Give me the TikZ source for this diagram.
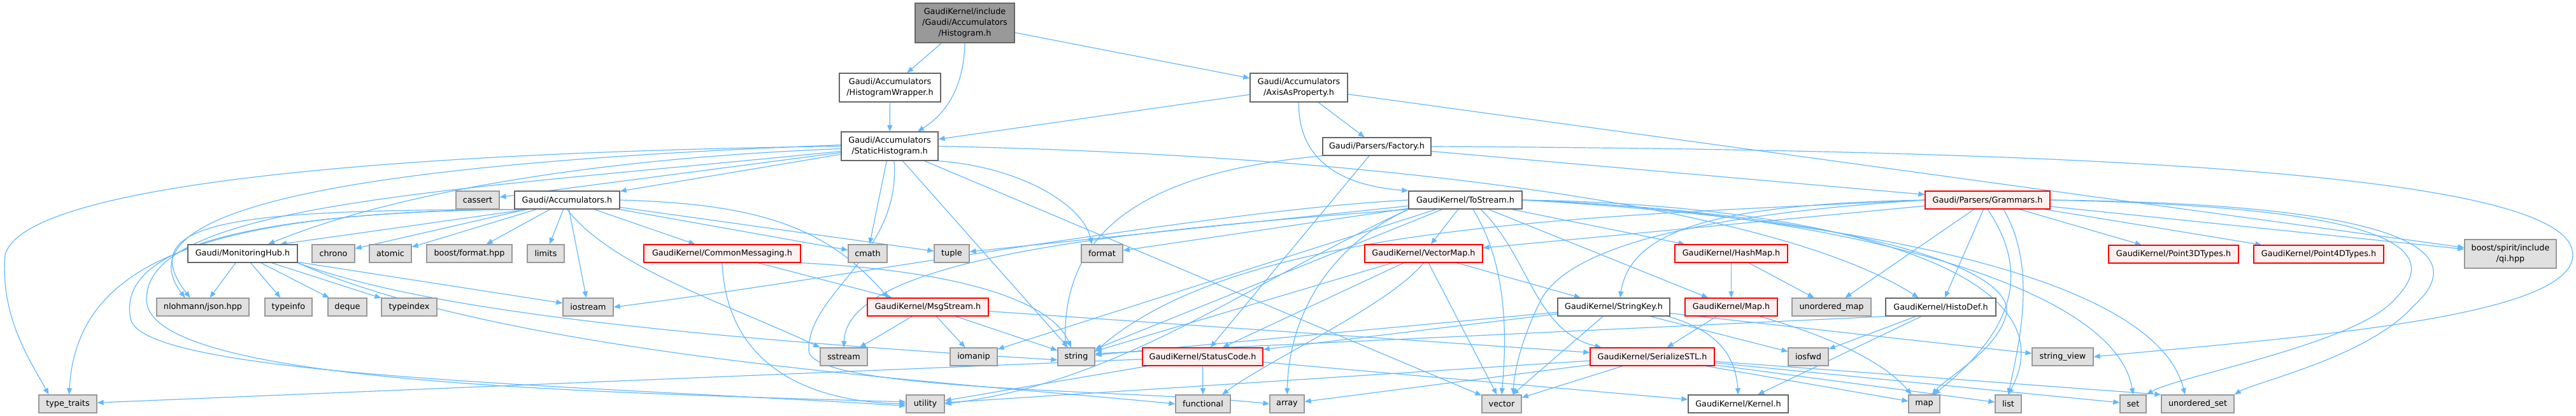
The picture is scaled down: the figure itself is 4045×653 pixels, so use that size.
\documentclass[tikz,border=0pt]{standalone}
\usepackage{fontspec}
\newfontfamily\nodefam{DejaVu Sans}
\usetikzlibrary{arrows.meta}
\definecolor{edgec}{HTML}{63B8FF}
\definecolor{sysfill}{HTML}{E0E0E0}
\definecolor{sysdraw}{HTML}{999999}
\definecolor{usrdraw}{HTML}{666666}
\definecolor{trfill}{HTML}{FFF0F0}
\definecolor{trdraw}{HTML}{FF0000}
\definecolor{topfill}{HTML}{999999}
\pgfdeclarelayer{edgelayer}
\pgfsetlayers{edgelayer,main}
\tikzset{
  nd/.style={rectangle, line width=1.3pt, inner sep=0pt, minimum height=28,
    font=\nodefam\fontsize{12.8}{17}\selectfont, align=center, text=black},
  sysn/.style={nd, fill=sysfill, draw=sysdraw},
  usrn/.style={nd, fill=white, draw=usrdraw},
  trn/.style={nd, fill=trfill, draw=trdraw},
  topn/.style={nd, fill=topfill, draw=usrdraw},
  dep/.style={draw=edgec, line width=1.2pt, -{Triangle[length=10pt,width=8pt]}}
}
\begin{document}
\begin{tikzpicture}[x=1pt,y=-1pt]
\useasboundingbox (0,0) rectangle (4045,653);
% ---------- nodes ----------
\node[topn, minimum width=156, minimum height=62] (hist) at (1515,36) {GaudiKernel/include\\/Gaudi/Accumulators\\/Histogram.h};
\node[usrn, minimum width=159, minimum height=45] (wrap) at (1397.5,137.5) {Gaudi/Accumulators\\/HistogramWrapper.h};
\node[usrn, minimum width=153, minimum height=45] (axis) at (2039.5,137.5) {Gaudi/Accumulators\\/AxisAsProperty.h};
\node[usrn, minimum width=152, minimum height=45] (static) at (1397,229.5) {Gaudi/Accumulators\\/StaticHistogram.h};
\node[usrn, minimum width=170] (factory) at (2162,230) {Gaudi/Parsers/Factory.h};
\node[sysn, minimum width=68] (cassert) at (750,314) {cassert};
\node[usrn, minimum width=165] (accum) at (890.5,314) {Gaudi/Accumulators.h};
\node[usrn, minimum width=178] (tostream) at (2301,314) {GaudiKernel/ToStream.h};
\node[trn, minimum width=196] (grammars) at (3121,314) {Gaudi/Parsers/Grammars.h};
\node[usrn, minimum width=172] (monhub) at (381,398) {Gaudi/MonitoringHub.h};
\node[sysn, minimum width=67] (chrono) at (523.5,398) {chrono};
\node[sysn, minimum width=66] (atomic) at (613,398) {atomic};
\node[sysn, minimum width=134] (bformat) at (737,398) {boost/format.hpp};
\node[sysn, minimum width=58] (limits) at (857,398) {limits};
\node[trn, minimum width=246] (commsg) at (1134,398) {GaudiKernel/CommonMessaging.h};
\node[sysn, minimum width=61] (cmath) at (1362.5,398) {cmath};
\node[sysn, minimum width=55] (tuple) at (1494.5,398) {tuple};
\node[sysn, minimum width=65] (format) at (1730.5,398) {format};
\node[trn, minimum width=185] (vmap) at (2235.5,398) {GaudiKernel/VectorMap.h};
\node[trn, minimum width=177] (hmap) at (2718.5,398) {GaudiKernel/HashMap.h};
\node[trn, minimum width=204] (p3d) at (3413,399) {GaudiKernel/Point3DTypes.h};
\node[trn, minimum width=204] (p4d) at (3641,399) {GaudiKernel/Point4DTypes.h};
\node[sysn, minimum width=144, minimum height=45] (spirit) at (3942,398.5) {boost/spirit/include\\/qi.hpp};
\node[sysn, minimum width=145] (nl) at (318.5,482) {nlohmann/json.hpp};
\node[sysn, minimum width=74] (typeinfo) at (453,482) {typeinfo};
\node[sysn, minimum width=61] (deque) at (545.5,482) {deque};
\node[sysn, minimum width=87] (typeindex) at (642.5,482) {typeindex};
\node[sysn, minimum width=79] (iostream) at (923.5,482) {iostream};
\node[trn, minimum width=190] (msgstream) at (1457,482) {GaudiKernel/MsgStream.h};
\node[usrn, minimum width=176] (skey) at (2534,482) {GaudiKernel/StringKey.h};
\node[trn, minimum width=145] (maph) at (2718.5,482) {GaudiKernel/Map.h};
\node[sysn, minimum width=124] (umap) at (2876,482) {unordered\_map};
\node[usrn, minimum width=173] (histodef) at (3047.5,482) {GaudiKernel/HistoDef.h};
\node[sysn, minimum width=74] (sstream) at (1325,560) {sstream};
\node[sysn, minimum width=74] (iomanip) at (1529,560) {iomanip};
\node[sysn, minimum width=58] (string) at (1690,560) {string};
\node[trn, minimum width=189] (scode) at (1888.5,560) {GaudiKernel/StatusCode.h};
\node[trn, minimum width=195] (sstl) at (2594.5,560) {GaudiKernel/SerializeSTL.h};
\node[sysn, minimum width=63] (iosfwd) at (2839.5,560) {iosfwd};
\node[sysn, minimum width=96] (sview) at (3239,560) {string\_view};
\node[sysn, minimum width=91] (tt) at (106.5,634) {type\_traits};
\node[sysn, minimum width=60] (utility) at (1453,634) {utility};
\node[sysn, minimum width=86] (functional) at (1889,634) {functional};
\node[sysn, minimum width=54] (array) at (2021,634) {array};
\node[sysn, minimum width=62] (vector) at (2358,634) {vector};
\node[usrn, minimum width=157] (kernel) at (2729.5,634) {GaudiKernel/Kernel.h};
\node[sysn, minimum width=49] (map) at (3021.5,634) {map};
\node[sysn, minimum width=41] (list) at (3153.5,634) {list};
\node[sysn, minimum width=41] (set) at (3349.5,634) {set};
\node[sysn, minimum width=114] (uset) at (3451,634) {unordered\_set};

% ---------- edges (behind the nodes) ----------
\begin{pgfonlayer}{edgelayer}
% Histogram.h
\draw[dep] (hist) -- (wrap);
\draw[dep] (hist.south) .. controls (1513,150) and (1475,185) .. ([xshift=44]static.north);
\draw[dep] (hist) -- (axis);
\draw[dep] (wrap) -- (static);
% AxisAsProperty.h
\draw[dep] (axis) -- (static);
\draw[dep] (axis) -- (factory);
\draw[dep] (axis.south) .. controls (2038,240) and (2090,290) .. (tostream.north west);
\draw[dep] (axis) -- (spirit);
% Factory.h
\draw[dep] (factory) -- (grammars);
\draw[dep] (factory) -- (scode);
\draw[dep] (factory.south west) .. controls (1800,270) and (1668,360) .. ([xshift=-17]string.north);
\draw[dep] (factory.east) .. controls (3500,236) and (4040,290) .. (4040,400) .. controls (4040,500) and (3600,530) .. (sview.east);
% StaticHistogram.h
\draw[dep] (static.west) .. controls (700,238) and (40,280) .. (8,400) .. controls (0,500) and (50,570) .. ([xshift=-30]tt.north);
\draw[dep] ([yshift=-4]static.west) .. controls (900,250) and (600,310) .. ([xshift=40]monhub.north);
\draw[dep] ([yshift=2]static.west) .. controls (600,255) and (180,320) .. ([xshift=-28]nl.north);
\draw[dep] ([yshift=-8]static.west) .. controls (700,300) and (230,320) .. (230,470) .. controls (230,600) and (900,615) .. ([yshift=3]utility.west);
\draw[dep] (static) -- (cassert);
\draw[dep] (static) -- (accum);
\draw[dep] (static) -- (cmath);
\draw[dep] ([xshift=7]static.south) .. controls (1415,400) and (1268,460) .. (1270,550) .. controls (1272,615) and (1800,612) .. (array.west);
\draw[dep] (static) -- (string);
\draw[dep] (static) -- (vector);
\draw[dep] (static.east) .. controls (2200,245) and (2800,330) .. ([xshift=-35]histodef.north);
\draw[dep] (static.south east) .. controls (1600,262) and (1700,320) .. ([xshift=-16]format.north);
% Accumulators.h
\draw[dep] ([xshift=-62]accum.south) -- ([xshift=59]monhub.north);
\draw[dep] (accum) -- (chrono);
\draw[dep] (accum) -- (atomic);
\draw[dep] (accum) -- (bformat);
\draw[dep] (accum) -- (limits);
\draw[dep] (accum) -- (iostream);
\draw[dep] (accum) -- (commsg);
\draw[dep] (accum) -- (cmath);
\draw[dep] (accum) -- (tuple);
\draw[dep] (accum.south) .. controls (960,420) and (1150,480) .. (sstream.north west);
\draw[dep] (accum.east) .. controls (1200,320) and (1300,360) .. ([xshift=-62]msgstream.north);
\draw[dep] ([xshift=-70]accum.south) .. controls (400,330) and (200,340) .. ([xshift=-20]nl.north);
\draw[dep] ([xshift=-75]accum.south) .. controls (300,332) and (120,420) .. ([xshift=2]tt.north);
\draw[dep] ([xshift=-80]accum.south) .. controls (280,335) and (190,420) .. (205,500) .. controls (220,590) and (900,605) .. ([yshift=-3]utility.west);
% MonitoringHub.h
\draw[dep] (monhub) -- (nl);
\draw[dep] (monhub) -- (typeinfo);
\draw[dep] (monhub) -- (deque);
\draw[dep] (monhub) -- (typeindex);
\draw[dep] (monhub) -- (iostream);
\draw[dep] (monhub.south east) .. controls (650,480) and (1000,525) .. ([yshift=-5]string.west);
\draw[dep] (monhub.south east) .. controls (800,560) and (1500,600) .. (functional.west);
% CommonMessaging.h
\draw[dep] (commsg) -- (msgstream);
\draw[dep] (commsg.south east) .. controls (1500,425) and (1650,470) .. ([xshift=-8]string.north);
\draw[dep] (commsg.south) .. controls (1140,560) and (1250,630) .. (utility.west);
% MsgStream.h
\draw[dep] (msgstream) -- (sstream);
\draw[dep] (msgstream) -- (iomanip);
\draw[dep] (msgstream) -- (string);
\draw[dep] (msgstream) -- (sstl);
% StatusCode.h
\draw[dep] (scode) -- (tt);
\draw[dep] (scode) -- (utility);
\draw[dep] (scode) -- (functional);
\draw[dep] (scode) -- (kernel);
% VectorMap.h
\draw[dep] (vmap) -- (skey);
\draw[dep] (vmap) -- (vector);
\draw[dep] (vmap) -- (string);
\draw[dep] (vmap) -- (scode);
\draw[dep] (vmap.south) .. controls (2180,480) and (2000,560) .. ([xshift=30]functional.north);
% StringKey.h
\draw[dep] (skey) -- (string);
\draw[dep] (skey) -- (scode);
\draw[dep] (skey) -- (vector);
\draw[dep] (skey) -- (iosfwd);
\draw[dep] ([xshift=85]skey.south) .. controls (2700,520) and (2725,560) .. (kernel.north);
\draw[dep] (skey) -- (sview);
% HashMap.h / Map.h
\draw[dep] (hmap) -- (maph);
\draw[dep] (hmap) -- (umap);
\draw[dep] (maph) -- (sstl);
\draw[dep] ([xshift=45]maph.south) .. controls (2880,530) and (2960,570) .. ([xshift=-20]map.north);
% HistoDef.h
\draw[dep] (histodef) -- (iosfwd);
\draw[dep] (histodef) -- (kernel);
\draw[dep] (histodef.south west) -- ([yshift=5]string.east);
% SerializeSTL.h
\draw[dep] (sstl) -- (array);
\draw[dep] (sstl) -- (vector);
\draw[dep] (sstl) -- (utility);
\draw[dep] (sstl) -- (list);
\draw[dep] (sstl) -- (map);
\draw[dep] (sstl) -- (set);
\draw[dep] (sstl) -- (uset.north west);
% ToStream.h
\draw[dep] (tostream) -- (vmap);
\draw[dep] (tostream) -- (hmap);
\draw[dep] (tostream) -- (maph);
\draw[dep] ([xshift=24]tostream.south) .. controls (2400,400) and (2410,520) .. ([xshift=-80]sstl.north);
\draw[dep] ([xshift=12]tostream.south) .. controls (2370,420) and (2365,540) .. (vector.north);
\draw[dep] (tostream.south west) .. controls (2100,380) and (2025,480) .. (array.north);
\draw[dep] (tostream) -- (tuple);
\draw[dep] (tostream) -- (format);
\draw[dep] (tostream.west) .. controls (1900,330) and (1300,440) .. (iostream.east);
\draw[dep] (tostream) -- (string);
\draw[dep] (tostream.south west) .. controls (1800,360) and (1330,400) .. (sstream.north);
\draw[dep] (tostream) -- (iomanip);
\draw[dep] (tostream.south west) .. controls (1950,450) and (1760,600) .. (utility.east);
\draw[dep] (tostream.east) .. controls (2850,320) and (3260,420) .. (list.north);
\draw[dep] (tostream.east) .. controls (2850,330) and (3320,440) .. (set.north);
\draw[dep] (tostream.east) .. controls (2850,340) and (3380,420) .. ([xshift=-20]uset.north);
\draw[dep] (tostream.east) .. controls (2900,335) and (3170,420) .. (3150,495) .. controls (3135,550) and (3060,590) .. ([xshift=12]map.north);
% Grammars.h
\draw[dep] (grammars) -- (umap);
\draw[dep] (grammars) -- (histodef);
\draw[dep] (grammars) -- (p3d);
\draw[dep] (grammars) -- (p4d);
\draw[dep] (grammars) -- (spirit);
\draw[dep] (grammars) -- (vmap);
\draw[dep] (grammars.west) .. controls (2700,320) and (2560,360) .. ([xshift=10]skey.north);
\draw[dep] (grammars.west) .. controls (2500,340) and (1950,350) .. ([yshift=8]string.east);
\draw[dep] (grammars.west) .. controls (2700,335) and (2470,380) .. (2420,470) .. controls (2390,530) and (2378,580) .. ([xshift=18]vector.north);
\draw[dep] ([xshift=25]grammars.south) .. controls (3200,420) and (3170,540) .. (list.north);
\draw[dep] (grammars.south) .. controls (3190,430) and (3160,520) .. ([xshift=15]map.north);
\draw[dep] (grammars.east) .. controls (3760,325) and (3840,390) .. (3760,470) .. controls (3700,540) and (3420,590) .. (set.north east);
\draw[dep] (grammars.east) .. controls (3800,320) and (3880,400) .. (3790,480) .. controls (3720,560) and (3540,600) .. (uset.north east);
\end{pgfonlayer}
\end{tikzpicture}
\end{document}
